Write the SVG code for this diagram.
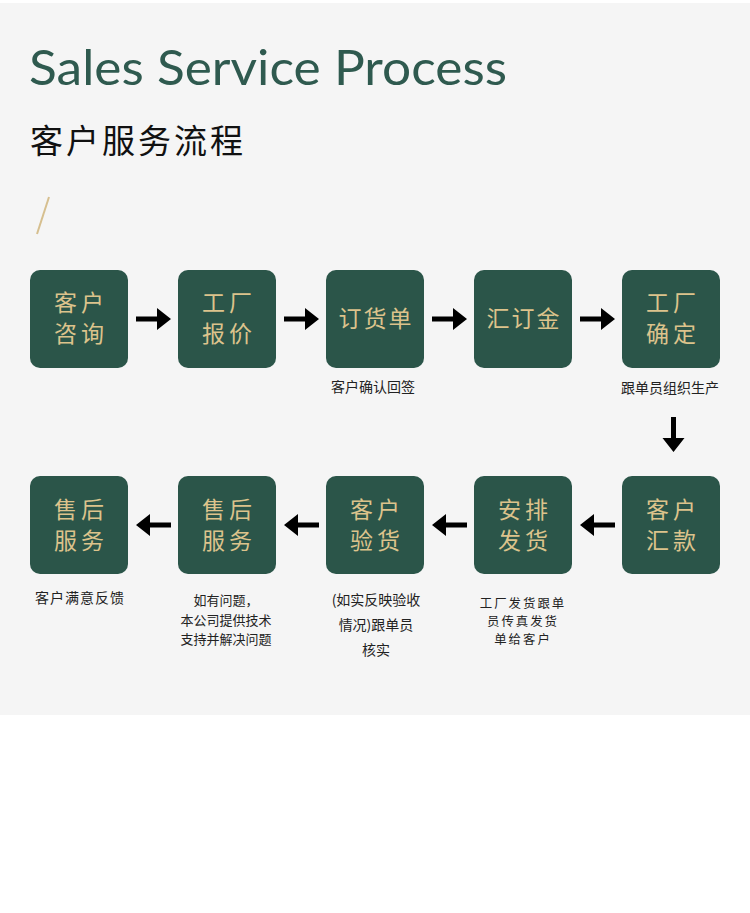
<svg xmlns="http://www.w3.org/2000/svg" width="750" height="913" viewBox="0 0 750 913">
  <style>
    .box { fill: #2b5549; }
    .bt { font-family: "Noto Sans CJK SC", "Noto Sans", sans-serif; font-size: 23px; fill: #dcc38c; text-anchor: middle; letter-spacing: 4px; }
    .bt1 { letter-spacing: 2px; }
    .cap { font-family: "Noto Sans CJK SC", "Noto Sans", sans-serif; font-size: 14px; fill: #222222; text-anchor: middle; }
    .cap13 { font-size: 13px; }
    .capS { font-size: 12.4px; letter-spacing: 2px; }
    .arrow { fill: #000000; }
  </style>
  <defs>
    <path id="arrR" d="M0,-2.5 H21 V-11 L35,0 L21,11 V2.5 H0 Z"/>
  </defs>
  <rect x="0" y="3" width="750" height="712" fill="#f5f5f5"/>
  <text x="29" y="85" font-family="Lato, 'Open Sans', 'Liberation Sans', sans-serif" font-size="49" fill="#2f5a4f" textLength="478" lengthAdjust="spacingAndGlyphs">Sales Service Process</text>
  <text x="30" y="153" font-family="'Noto Sans CJK SC', 'Noto Sans', sans-serif" font-size="33" fill="#111111" letter-spacing="3">客户服务流程</text>
  <line x1="37" y1="234" x2="49" y2="197" stroke="#d6bf8f" stroke-width="2"/>

  <g id="n1"><rect class="box" x="30" y="270" width="98" height="98" rx="10"/><text class="bt" x="81" y="311">客户</text><text class="bt" x="81" y="342">咨询</text></g>
  <g id="n2"><rect class="box" x="178" y="270" width="98" height="98" rx="10"/><text class="bt" x="229" y="311">工厂</text><text class="bt" x="229" y="342">报价</text></g>
  <g id="n3"><rect class="box" x="326" y="270" width="98" height="98" rx="10"/><text class="bt bt1" x="376" y="327">订货单</text><text class="cap" x="373" y="392">客户确认回签</text></g>
  <g id="n4"><rect class="box" x="474" y="270" width="98" height="98" rx="10"/><text class="bt bt1" x="524" y="327">汇订金</text></g>
  <g id="n5"><rect class="box" x="622" y="270" width="98" height="98" rx="10"/><text class="bt" x="673" y="311">工厂</text><text class="bt" x="673" y="342">确定</text><text class="cap" x="670" y="393">跟单员组织生产</text></g>

  <g id="n6"><rect class="box" x="622" y="476" width="98" height="98" rx="10"/><text class="bt" x="673" y="518">客户</text><text class="bt" x="673" y="549">汇款</text></g>
  <g id="n7"><rect class="box" x="474" y="476" width="98" height="98" rx="10"/><text class="bt" x="525" y="518">安排</text><text class="bt" x="525" y="549">发货</text><text class="cap capS" x="523" y="608">工厂发货跟单</text><text class="cap capS" x="523" y="626">员传真发货</text><text class="cap capS" x="523" y="644">单给客户</text></g>
  <g id="n8"><rect class="box" x="326" y="476" width="98" height="98" rx="10"/><text class="bt" x="377" y="518">客户</text><text class="bt" x="377" y="549">验货</text><text class="cap" x="376" y="605">(如实反映验收</text><text class="cap" x="376" y="630">情况)跟单员</text><text class="cap" x="376" y="655">核实</text></g>
  <g id="n9"><rect class="box" x="178" y="476" width="98" height="98" rx="10"/><text class="bt" x="229" y="518">售后</text><text class="bt" x="229" y="549">服务</text><text class="cap cap13" x="226" y="605">如有问题，</text><text class="cap cap13" x="226" y="625">本公司提供技术</text><text class="cap cap13" x="226" y="644">支持并解决问题</text></g>
  <g id="n10"><rect class="box" x="30" y="476" width="98" height="98" rx="10"/><text class="bt" x="81" y="518">售后</text><text class="bt" x="81" y="549">服务</text><text class="cap" x="80" y="603" letter-spacing="1">客户满意反馈</text></g>

  <g id="connectors" class="arrow">
    <use href="#arrR" transform="translate(136,319)"/>
    <use href="#arrR" transform="translate(284,319)"/>
    <use href="#arrR" transform="translate(432,319)"/>
    <use href="#arrR" transform="translate(580,319)"/>
    <use href="#arrR" transform="translate(673.5,417) rotate(90)"/>
    <use href="#arrR" transform="translate(615,525) rotate(180)"/>
    <use href="#arrR" transform="translate(467,525) rotate(180)"/>
    <use href="#arrR" transform="translate(319,525) rotate(180)"/>
    <use href="#arrR" transform="translate(171,525) rotate(180)"/>
  </g>
</svg>
